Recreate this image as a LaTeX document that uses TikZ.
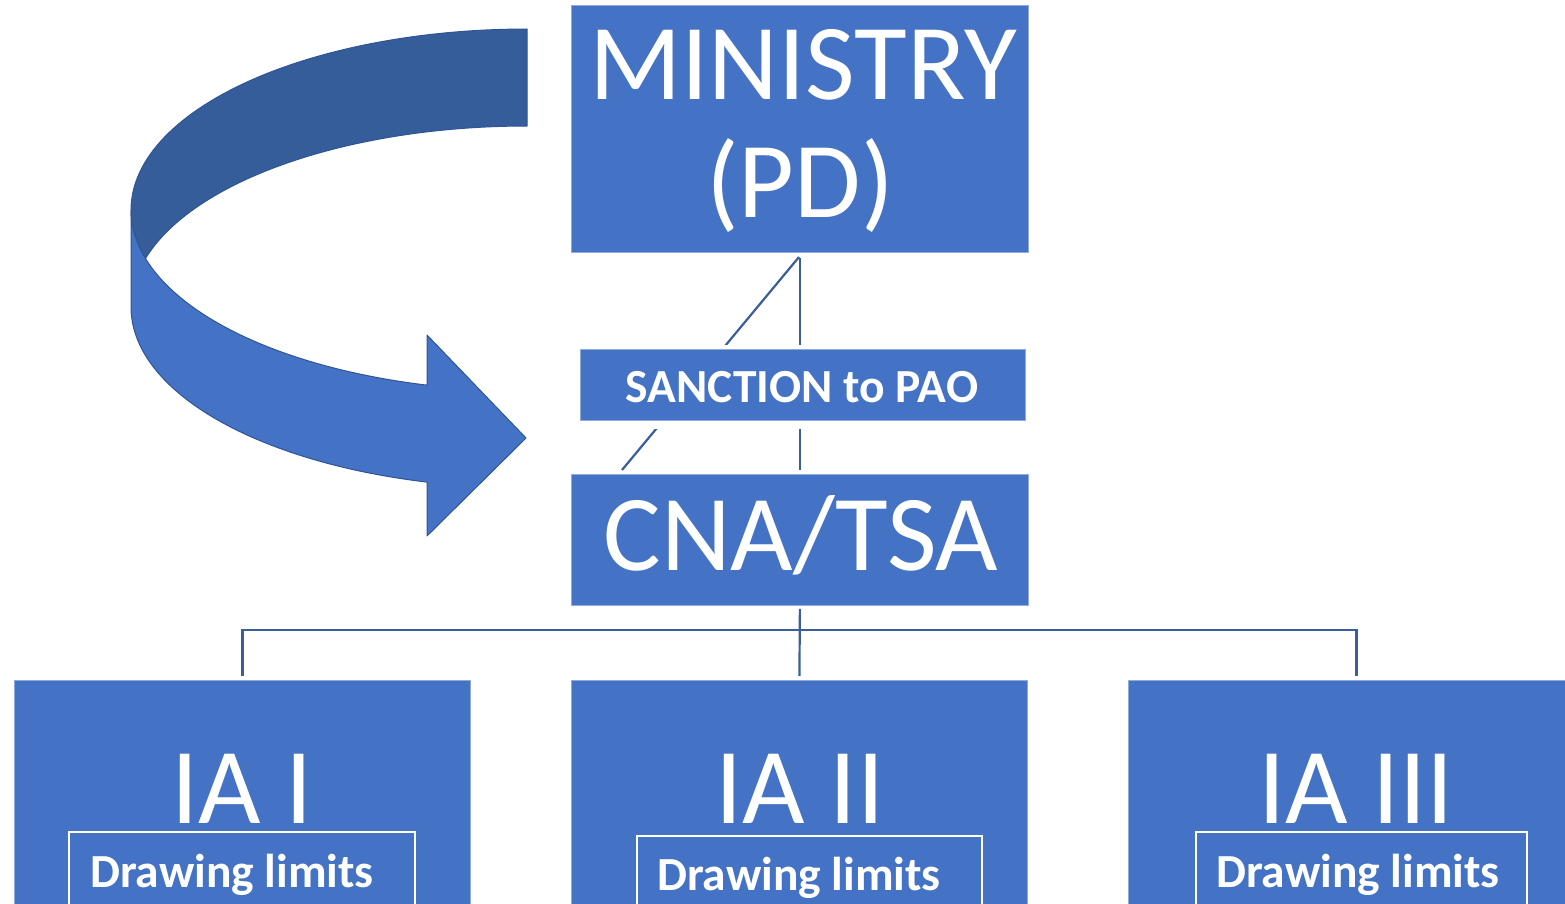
\documentclass[tikz,border=0pt]{standalone}
\usepackage{fontspec}
\setmainfont{Carlito}
\definecolor{boxblue}{HTML}{4472C4}
\definecolor{boxedge}{HTML}{8FAADC}
\definecolor{bandback}{HTML}{355D9A}
\definecolor{bandedge}{HTML}{2F5597}
\definecolor{linkblue}{HTML}{3A5D9C}

\begin{document}
\begin{tikzpicture}[x=1pt,y=-1pt,
  box/.style={fill=boxblue, draw=boxedge, line width=0.8pt, inner sep=0pt,
              anchor=north west, minimum width=457pt},
  limitbox/.style={draw=white, line width=2pt, inner sep=0pt, anchor=north west,
                   minimum height=120pt},
  bigtext/.style={text=white, inner sep=0pt, anchor=base,
                  font=\fontsize{108}{118}\selectfont},
  boldtext/.style={text=white, inner sep=0pt, anchor=base,
                   font=\fontsize{47.5}{54}\selectfont\bfseries},
  conn/.style={draw=linkblue, line width=2.2pt},
  band/.style={draw=bandedge, line width=1pt, line join=round}
]
\useasboundingbox (0,0) rectangle (1565,904);
\clip (0,0) rectangle (1565,904);

% curved ribbon arrow: inner (back) face, then front face with head
\fill[band, fill=bandback]
  plot[domain=270:180, samples=80] ({527+396*cos(\x)},{210+181*sin(\x)})
  -- plot[domain=180:164.4, samples=12] ({527+396*cos(\x)},{210+181*sin(\x)})
  -- plot[domain=195.6:270, samples=80] ({527+396*cos(\x)},{307+181*sin(\x)})
  -- cycle;
\fill[band, fill=boxblue]
  plot[domain=180:104.6, samples=80] ({527+396*cos(\x)},{210+181*sin(\x)})
  -- (427,335) -- (526,438) -- (427,536) -- (427,482)
  -- plot[domain=104.6:180, samples=80] ({527+396*cos(\x)},{307+181*sin(\x)})
  -- cycle;

% boxes
\node[box, minimum height=247pt] (ministry) at (571,5) {};
\node[box, minimum height=131pt] (cna) at (571,474) {};
\node[box, minimum height=240pt, minimum width=456pt] (ia1) at (14,680) {};
\node[box, minimum height=240pt, minimum width=456pt] (ia2) at (571,680) {};
\node[box, minimum height=240pt, minimum width=456pt] (ia3) at (1128,680) {};

% links from the ministry down to CNA/TSA
\coordinate (diagtop) at (799,257);
\coordinate (diagbot) at (622,470);
\draw[conn] (diagtop) -- (diagbot);
\draw[conn, shorten <=5pt, shorten >=4pt] (ministry.south) -- (cna.north);

% sanction box with its white margin
\fill[white] (576,345) rectangle (1029,429);
\node[box, minimum width=445pt, minimum height=71pt] (sanction) at (580,349) {};
\node[boldtext] (tsanction) at (802,402) {SANCTION to PAO};

% tree below CNA/TSA
\coordinate (bus) at (799,630);
\draw[conn, shorten <=3pt, shorten >=4pt] (cna.south) -- (ia2.north);
\draw[conn, shorten <=4pt, shorten >=4pt] (ia1.north) |- (bus) -| (ia3.north);

% texts
\node[bigtext] (tmin1) at (803,100) {MINISTRY};
\node[bigtext] (tmin2) at (800,218) {(PD)};
\node[bigtext] (tcna) at (801,570) {CNA/TSA};
\node[bigtext] (tia1) at (242,823) {IA I};
\node[bigtext] (tia2) at (800,823) {IA II};
\node[bigtext] (tia3) at (1356,823) {IA III};

% drawing limit boxes
\node[limitbox, minimum width=346pt] (lim1) at (68,831) {};
\node[limitbox, minimum width=345pt] (lim2) at (636,835) {};
\node[limitbox, minimum width=331pt] (lim3) at (1195,831) {};
\node[boldtext] (tlim1) at (232,887) {Drawing limits};
\node[boldtext] (tlim2) at (799,890) {Drawing limits};
\node[boldtext] (tlim3) at (1358,887) {Drawing limits};
\end{tikzpicture}
\end{document}
